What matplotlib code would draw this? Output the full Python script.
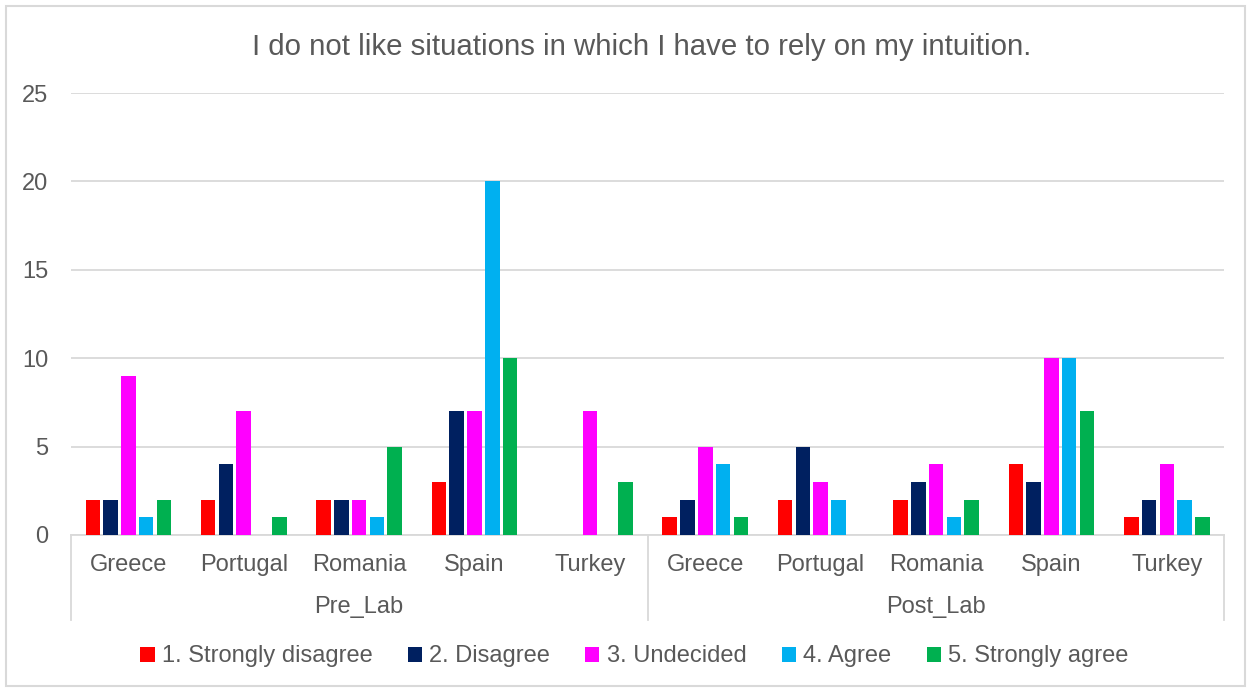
import matplotlib.pyplot as plt
import numpy as np

# ---- datos
paises = ["Greece", "Portugal", "Romania", "Spain", "Turkey"]
grupos = ["Pre_Lab", "Post_Lab"]
respuestas = ["1. Strongly disagree", "2. Disagree", "3. Undecided", "4. Agree", "5. Strongly agree"]

# una lista por respuesta, 10 valores (Pre_Lab x5, Post_Lab x5)
strongly_disagree = [2, 2, 2, 3, 0, 1, 2, 2, 4, 1]
disagree = [2, 4, 2, 7, 0, 2, 5, 3, 3, 2]
undecided = [9, 7, 2, 7, 7, 5, 3, 4, 10, 4]
agree = [1, 0, 1, 20, 0, 4, 2, 1, 10, 2]
strongly_agree = [2, 1, 5, 10, 3, 1, 0, 2, 7, 1]

series = [strongly_disagree, disagree, undecided, agree, strongly_agree]
colores = ["#FF0000", "#002060", "#FF00FF", "#00B0F0", "#00B050"]

gris_texto = "#595959"
gris_linea = "#D9D9D9"

plt.rcParams['font.family'] = ['Liberation Sans', 'DejaVu Sans']

fig = plt.figure(figsize=(12.51, 6.88), dpi=100)
ax = fig.add_axes([0.0565, 0.2224, 0.9223, 0.6424])

x = np.arange(len(paises) * len(grupos))
paso = 0.154
ancho = 0.126
for j in range(len(series)):
	ax.bar(x + (j - 2) * paso, series[j], ancho, color=colores[j], label=respuestas[j], zorder=3)

ax.set_xlim(-0.5, len(x) - 0.5)
ax.set_ylim(0, 25)
ax.set_yticks(np.arange(0, 26, 5))
ax.grid(axis='y', color=gris_linea, linewidth=1.3, zorder=0)
ax.tick_params(axis='y', length=0, pad=16, labelsize=17, labelcolor=gris_texto)
ax.set_xticks([])
for s in ['top', 'right', 'left']:
	ax.spines[s].set_visible(False)
ax.spines['bottom'].set_color(gris_linea)
ax.spines['bottom'].set_linewidth(1.3)

# eje de categorias de dos niveles
tr = ax.get_xaxis_transform()
for i, c in enumerate(paises * len(grupos)):
	ax.text(x[i], -0.068, c, transform=tr, ha='center', va='center', fontsize=17, color=gris_texto)
for g, nombre in enumerate(grupos):
	centro = g * len(paises) + (len(paises) - 1) / 2.0
	ax.text(centro, -0.164, nombre, transform=tr, ha='center', va='center', fontsize=17, color=gris_texto)
for xs in [-0.5, 4.5, 9.5]:
	ax.plot([xs, xs], [0, -0.192], transform=tr, color=gris_linea, linewidth=1.3, clip_on=False)

fig.text(0.5128, 0.932, "I do not like situations in which I have to rely on my intuition.",
	ha='center', va='center', fontsize=21.2, color=gris_texto)

ax.legend(loc='center', bbox_to_anchor=(0.507, 0.046), bbox_transform=fig.transFigure,
	ncol=5, frameon=False, fontsize=17, labelcolor=gris_texto,
	handlelength=0.6, handleheight=0.6, handletextpad=0.3, columnspacing=1.5)

# borde del grafico
fig.patches.append(plt.Rectangle((0.005, 0.003), 0.99, 0.988, transform=fig.transFigure,
	fill=False, edgecolor=gris_linea, linewidth=1.5))

plt.savefig("out.png", dpi=100)
